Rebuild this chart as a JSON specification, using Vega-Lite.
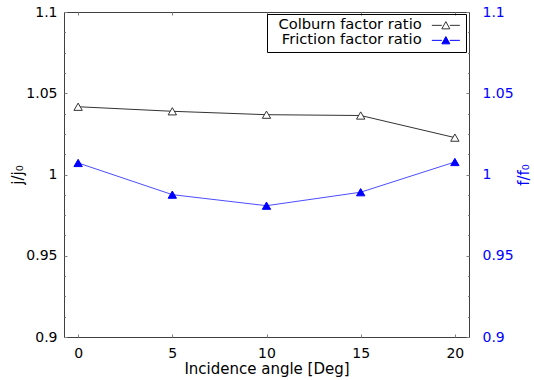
{
  "$schema": "https://vega.github.io/schema/vega-lite/v6.json",
  "width": 405,
  "height": 325,
  "autosize": {"type": "none"},
  "padding": {"left": 64, "top": 12, "right": 65, "bottom": 43},
  "config": {
    "font": "DejaVu Sans",
    "view": {"stroke": "#404040", "strokeWidth": 1},
    "axis": {
      "grid": false,
      "domain": false,
      "tickColor": "#808080",
      "labelFont": "DejaVu Sans",
      "titleFont": "DejaVu Sans",
      "labelFontSize": 14,
      "titleFontSize": 15,
      "titleFontWeight": "normal",
      "labelColor": "#000000",
      "titleColor": "#000000"
    }
  },
  "data": {
    "values": [
      {"angle": 0, "series": "Colburn factor ratio", "value": 1.0417},
      {"angle": 5, "series": "Colburn factor ratio", "value": 1.0389},
      {"angle": 10, "series": "Colburn factor ratio", "value": 1.0368},
      {"angle": 15, "series": "Colburn factor ratio", "value": 1.0363},
      {"angle": 20, "series": "Colburn factor ratio", "value": 1.0227},
      {"angle": 0, "series": "Friction factor ratio", "value": 1.0071},
      {"angle": 5, "series": "Friction factor ratio", "value": 0.9876},
      {"angle": 10, "series": "Friction factor ratio", "value": 0.9808},
      {"angle": 15, "series": "Friction factor ratio", "value": 0.9891},
      {"angle": 20, "series": "Friction factor ratio", "value": 1.0077}
    ]
  },
  "layer": [
    {
      "transform": [{"filter": "datum.series === 'Colburn factor ratio'"}],
      "encoding": {
        "x": {
          "field": "angle", "type": "quantitative",
          "scale": {"domain": [-0.75, 20.75], "nice": false, "zero": false},
          "axis": {
            "orient": "bottom", "values": [0, 5, 10, 15, 20],
            "title": "Incidence angle [Deg]", "tickSize": -3, "labelPadding": 12,
            "titlePadding": 1
          }
        },
        "y": {
          "field": "value", "type": "quantitative",
          "scale": {"domain": [0.9, 1.1], "nice": false, "zero": false},
          "axis": {
            "orient": "left",
            "values": [0.9, 0.9125, 0.925, 0.9375, 0.95, 0.9625, 0.975, 0.9875, 1, 1.0125, 1.025, 1.0375, 1.05, 1.0625, 1.075, 1.0875, 1.1],
            "format": "~g",
            "labelExpr": "abs(datum.value * 20 - round(datum.value * 20)) < 0.001 ? datum.label : ''",
            "tickSize": {"condition": {"test": "abs(datum.value * 20 - round(datum.value * 20)) < 0.001", "value": -3}, "value": -1.5},
            "labelPadding": 10,
            "title": "j/j₀", "titlePadding": 0
          }
        },
        "stroke": {
          "field": "series", "type": "nominal",
          "scale": {"domain": ["Colburn factor ratio", "Friction factor ratio"], "range": ["#333333", "#0000ff"]},
          "legend": {
            "orient": "none", "legendX": 203, "legendY": 2,
            "title": null,
            "strokeColor": "#000000",
            "padding": 4,
            "labelFontSize": 14.7,
            "labelFont": "DejaVu Sans",
            "labelColor": "#000000",
            "labelAlign": "right",
            "labelOffset": 136,
            "symbolType": "M30.7,0H32.7M34.3,0H36.3M32.7,0.7L33.5,-0.75L34.3,0.7Z",
            "symbolSize": 100,
            "symbolStrokeWidth": 1,
            "rowPadding": -8
          }
        },
        "fill": {
          "field": "series", "type": "nominal",
          "scale": {"domain": ["Colburn factor ratio", "Friction factor ratio"], "range": ["#ffffff", "#0000ff"]},
          "legend": null
        }
      },
      "layer": [
        {"mark": {"type": "line", "strokeWidth": 1}, "encoding": {"fill": {"value": null}}},
        {"mark": {"type": "point", "shape": "triangle-up", "size": 70, "strokeWidth": 1, "opacity": 1, "filled": true}}
      ]
    },
    {
      "transform": [{"filter": "datum.series === 'Friction factor ratio'"}],
      "encoding": {
        "x": {
          "field": "angle", "type": "quantitative",
          "scale": {"domain": [-0.75, 20.75], "nice": false, "zero": false},
          "axis": {
            "orient": "top", "values": [0, 5, 10, 15, 20],
            "title": null, "labels": false, "tickSize": -3
          }
        },
        "y": {
          "field": "value", "type": "quantitative",
          "scale": {"domain": [0.9, 1.1], "nice": false, "zero": false},
          "axis": {
            "orient": "right",
            "values": [0.9, 0.9125, 0.925, 0.9375, 0.95, 0.9625, 0.975, 0.9875, 1, 1.0125, 1.025, 1.0375, 1.05, 1.0625, 1.075, 1.0875, 1.1],
            "format": "~g",
            "labelExpr": "abs(datum.value * 20 - round(datum.value * 20)) < 0.001 ? datum.label : ''",
            "tickSize": {"condition": {"test": "abs(datum.value * 20 - round(datum.value * 20)) < 0.001", "value": -3}, "value": -1.5},
            "labelPadding": 16,
            "labelColor": "#0000ff",
            "titleColor": "#0000ff",
            "title": "f/f₀", "titleAngle": 270, "titlePadding": 18
          }
        },
        "stroke": {"field": "series", "type": "nominal"},
        "fill": {"field": "series", "type": "nominal"}
      },
      "layer": [
        {"mark": {"type": "line", "strokeWidth": 1, "stroke": "#4d4dff"}, "encoding": {"fill": {"value": null}, "stroke": {"value": "#4d4dff"}}},
        {"mark": {"type": "point", "shape": "triangle-up", "size": 70, "strokeWidth": 1, "opacity": 1, "filled": true}}
      ]
    }
  ],
  "resolve": {"scale": {"y": "independent"}, "axis": {"x": "independent", "y": "independent"}}
}
